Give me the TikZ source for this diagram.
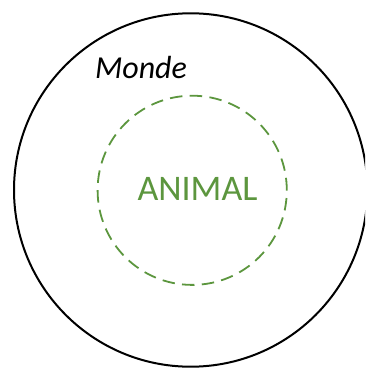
\documentclass[tikz,border=0pt]{standalone}
\usepackage{fontspec}
\setmainfont{Carlito}
\definecolor{animalgreen}{RGB}{92,150,62}
\begin{document}
\begin{tikzpicture}[x=1pt,y=-1pt,
  outer/.style={draw=black,line width=2pt},
  inner/.style={draw=animalgreen,line width=1.8pt,dash pattern=on 12.5pt off 7.3pt},
  lab/.style={inner sep=0pt,anchor=base}]
\useasboundingbox (0,0) rectangle (365,369);
\begin{scope}
\clip (0,0) rectangle (365,369);
\node[outer,circle,minimum size=353.4pt,inner sep=0pt] (monde) at (190.7,190) {};
\end{scope}
\node[inner,circle,minimum size=189.2pt,inner sep=0pt] (animal) at (192.2,190.3) {};
\node[lab,text=animalgreen,font=\fontsize{36}{40}\selectfont] (animaltxt) at (197.5,200) {ANIMAL};
\node[lab,font=\itshape\fontsize{32}{36}\selectfont] (mondetxt) at (141,78) {Monde};
\end{tikzpicture}
\end{document}
